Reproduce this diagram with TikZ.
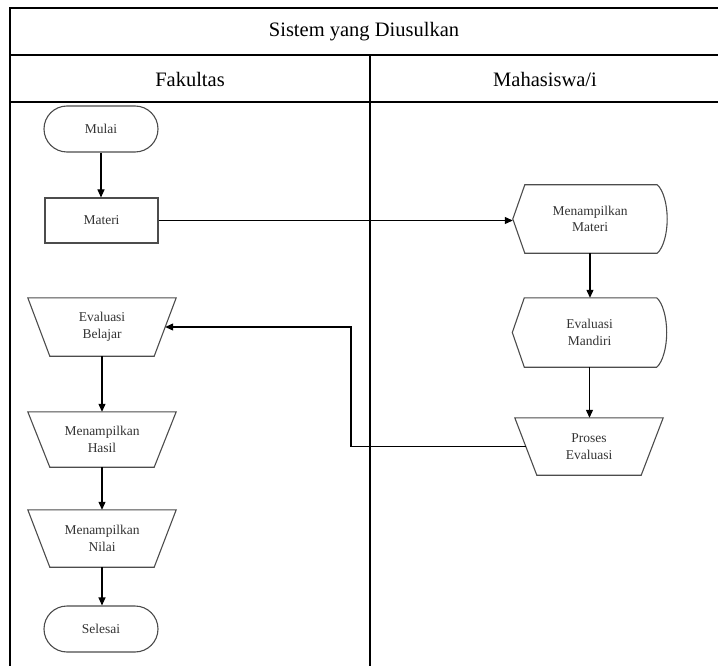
\documentclass[tikz,border=0pt]{standalone}
\usepackage{fontspec}
\setmainfont{Liberation Serif}
\usetikzlibrary{arrows.meta,calc}
\begin{document}
\begin{tikzpicture}[x=1pt,y=-1pt,
  frame/.style={line width=1.6pt, draw=black},
  lbl/.style={inner sep=0pt, font=\fontsize{20.5}{24}\selectfont},
  box/.style={inner sep=0pt, align=center, font=\fontsize{13.5}{16.5}\selectfont, text=black!80},
  outl/.style={draw=black!70, line width=1.1pt},
  term/.style={box, outl, rounded corners=23pt, minimum width=114, minimum height=46},
  proc/.style={box, outl, minimum width=113, minimum height=45},
  trap/.style={box, minimum width=126, minimum height=57},
  disp/.style={box, minimum width=154, minimum height=68},
  arr/.style={line width=1.1pt, draw=black, -{Triangle[length=8pt,width=7pt]}}
]
\useasboundingbox (0,0) rectangle (718,666);

% frame
\draw[frame] (718,8) -- (10,8) -- (10,666);
\draw[frame] (10,55) -- (718,55);
\draw[frame] (10,102) -- (718,102);
\draw[frame] (370,55) -- (370,666);

\node[lbl] (title) at (364,32) {Sistem yang Diusulkan};
\node[lbl] (fak) at (190,79) {Fakultas};
\node[lbl] (mhs) at (545,79) {Mahasiswa/i};

% left lane
\node[term] (mulai) at (101,129) {Mulai};
\node[proc] (materi) at (101.5,220.5) {Materi};
\node[trap, minimum height=58] (eb) at (102,327) {Evaluasi\\Belajar};
\node[trap, minimum height=55] (mh) at (102,439.5) {Menampilkan\\Hasil};
\node[trap] (mn) at (102,538.5) {Menampilkan\\Nilai};
\node[term] (selesai) at (101,629) {Selesai};

% right lane
\node[disp] (mm) at (590,219) {Menampilkan\\Materi};
\node[disp, minimum height=69] (em) at (589.5,332.5) {Evaluasi\\Mandiri};
\node[trap] (pe) at (589,446.5) {Proses\\Evaluasi};

% custom outlines
\foreach \n in {eb,mh,mn,pe}
  \draw[outl] ([xshift=-11pt]\n.north west) -- ([xshift=11pt]\n.north east)
    -- ([xshift=-11pt]\n.south east) -- ([xshift=11pt]\n.south west) -- cycle;
\foreach \n in {mm,em}
  \draw[outl] (\n.west) -- ([xshift=12pt]\n.north west) -- ([xshift=-10pt]\n.north east)
    .. controls ($(\n.north east)+(-4,5)$) and ($(\n.east)+(0,-15)$) .. (\n.east)
    .. controls ($(\n.east)+(0,15)$) and ($(\n.south east)+(-4,-5)$) .. ([xshift=-10pt]\n.south east)
    -- ([xshift=12pt]\n.south west) -- cycle;

% connectors
\coordinate (turn) at (351,327);
\draw[arr] (mulai.south) -- (mulai.south |- materi.north);
\draw[arr] (materi.east) -- (materi.east -| mm.west);
\draw[arr] (mm.south) -- (mm.south |- em.north);
\draw[arr] (em.south) -- (em.south |- pe.north);
\draw[arr] (pe.west) -| (turn) -- (eb.east);
\draw[arr] (eb.south) -- (mh.north);
\draw[arr] (mh.south) -- (mn.north);
\draw[arr] (mn.south) -- (mn.south |- selesai.north);
\end{tikzpicture}
\end{document}
